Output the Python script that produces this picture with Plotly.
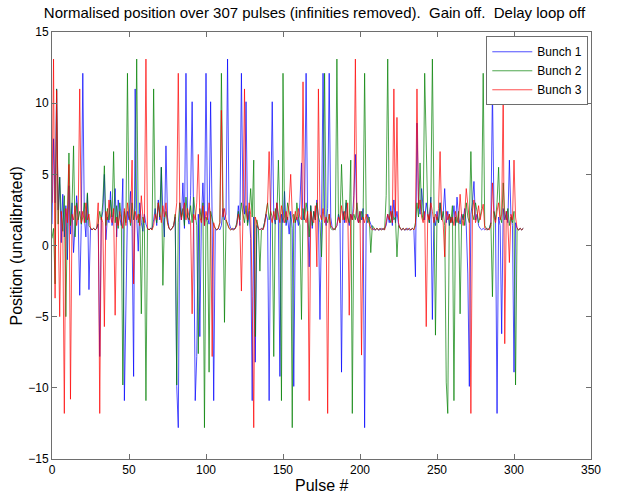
import plotly.graph_objects as go

title = "Normalised position over 307 pulses (infinities removed).  Gain off.  Delay loop off"
x_title = "Pulse #"
y_title = "Position (uncalibrated)"
series_names = ["Bunch 1", "Bunch 2", "Bunch 3"]
series_colors = ["#0000FF", "#008000", "#FF0000"]

bunch1 = [
    1.5, 7.5, 3.0, 11.0, 2.5, 4.8, 0.2, 3.6, 0.6, 2.8,
    -1.0, 4.2, 0.8, 3.0, -0.5, 1.2, 3.5, 2.0, -3.5, 1.4,
    12.1, 2.0, 0.6, 3.6, -3.1, 1.2, 1.1, 1.2, 1.1, 1.2,
    1.5, -7.8, 1.8, 2.4, 5.0, 0.4, 2.0, 1.6, 3.8, 1.4,
    2.2, 4.0, 0.6, 3.2, 2.0, 1.4, 4.7, -10.9, -4.5, 2.4,
    1.8, 3.8, 1.2, -9.2, 11.0, 2.0, -0.4, 3.0, 1.6, 1.0,
    2.2, 1.5, 1.2, 1.1, 1.2, 1.2, 1.8, 2.6, 1.4, 3.2,
    1.8, 5.5, 2.2, 0.6, 7.0, 2.0, 1.2, 1.1, 1.2, 1.4,
    2.0, -9.9, -12.8, 3.0, 1.8, 4.4, 1.2, 12.1, 2.0, 1.5,
    3.5, 10.1, 1.6, -10.9, -7.8, 2.2, -6.4, 1.8, 4.4, 1.4,
    12.1, 2.0, 1.5, 10.1, 1.8, -10.9, 1.2, 1.1, 1.2, 1.1,
    1.4, 2.6, 1.8, 2.2, 13.1, 1.6, 1.2, 1.1, 1.2, 1.2,
    1.5, 2.8, 1.4, 12.1, 3.0, 2.2, 10.1, 1.6, 2.4, 0.5,
    -10.9, 2.0, -8.2, 1.4, 1.2, 1.1, 1.2, 1.1, 1.6, 2.2,
    1.8, -10.9, 2.4, 10.1, 2.0, 1.5, 3.0, 1.8, -9.2, 2.2,
    1.6, 3.8, 1.4, 2.0, 0.8, 2.4, 1.2, -9.9, 1.6, 2.0,
    1.4, 3.0, 5.8, 1.8, 2.4, 12.1, 2.0, -1.5, 2.8, 1.2,
    2.4, 1.8, 3.2, 2.0, -5.2, 1.6, 12.1, 2.2, 1.4, 2.6,
    12.1, 2.0, 1.2, 1.1, 1.2, 1.4, 2.2, 1.8, -8.9, 2.4,
    1.6, 3.0, 2.0, 1.4, 2.2, 1.8, 3.5, 6.4, 2.0, 1.6,
    2.4, 1.8, 2.6, -12.8, 1.5, 2.2, 1.8, 1.4, 1.2, 1.1,
    1.1, 1.2, 1.1, 1.1, 1.2, 1.1, 1.2, 1.4, 2.2, 1.6,
    2.8, 1.4, 3.2, 1.6, 2.4, 1.5, 1.2, 1.1, 1.2, 1.1,
    1.1, 1.2, 1.1, 1.1, 1.2, 1.1, -2.2, 8.6, 3.0, 2.2,
    4.0, 2.6, 1.8, 3.0, 2.2, 1.6, 3.4, -5.2, 2.0, 1.4,
    2.4, 1.6, 3.0, 1.8, 2.2, 4.0, 1.6, 2.4, 1.4, 2.0,
    1.6, 2.8, 1.4, 3.4, 2.0, 1.5, 2.2, 1.8, 2.6, 1.4,
    -2.0, -9.9, 2.2, 3.0, 4.5, 1.8, 2.2, 1.4, 1.2, 1.1,
    1.2, 1.1, 1.2, 1.1, 1.2, 1.6, 11.0, 2.4, 1.8, -11.8,
    2.0, 1.4, -6.2, 2.6, 1.8, 2.4, 1.6, 6.0, 2.2, 1.4,
    -8.9, 1.6, 1.2, 1.1, 1.2, 1.1, 1.2,
]

bunch2 = [
    0.5, 1.2, -2.7, 11.0, 1.5, 4.8, 2.2, 1.0, 3.5, -5.0,
    2.0, 6.5, 1.4, 2.8, 7.0, 0.6, 3.0, 1.8, 2.4, 1.5,
    2.0, 3.0, 1.6, 3.7, 1.4, 1.2, 1.1, 1.2, 1.1, 1.2,
    1.6, 2.4, 1.8, 3.0, 5.6, 1.4, 2.6, 1.8, 3.2, 2.0,
    6.6, 1.6, 2.8, 1.2, 3.0, 2.0, -9.8, 2.4, 1.6, 12.1,
    2.2, 1.4, 3.0, 1.8, 2.6, 13.1, 1.6, 2.2, -4.8, 2.0,
    1.4, -10.9, 1.2, 1.1, 1.2, 1.1, 11.0, 2.2, 1.6, 3.0,
    2.0, 5.5, -2.8, 1.8, 2.4, 1.6, 1.2, 1.1, 1.2, 1.4,
    2.2, -9.8, 1.6, 3.0, 2.0, 2.6, 1.4, 3.4, 2.0, 1.8,
    2.8, 1.6, 3.4, 2.2, 1.4, -7.6, 2.6, 1.8, 3.0, -12.8,
    2.0, 1.6, -8.9, 2.4, 1.8, 1.4, 1.2, 1.1, 1.2, 1.6,
    12.1, 2.0, -5.4, 1.8, 1.4, 1.2, 1.1, 1.2, 1.1, 1.2,
    1.6, 2.4, 1.8, 3.0, 2.2, 1.6, 2.8, 1.4, 2.2, 4.0,
    2.0, 6.0, -6.4, 1.8, 1.2, -1.8, 1.1, 1.2, 1.6, 2.4,
    3.0, 1.8, 2.4, 2.0, -7.8, 2.6, 1.8, 6.0, 2.2, -10.9,
    12.1, 2.0, 1.6, 3.0, 2.4, 1.8, -12.8, 2.2, 1.6, 3.0,
    2.0, 1.4, -5.2, 2.6, 1.8, 3.0, 2.2, 0.6, 2.8, 1.4,
    2.4, 1.8, 3.0, 2.0, 1.6, -0.8, 2.4, 12.1, 2.0, 1.6,
    2.2, 1.2, 1.1, 1.2, 1.1, 13.1, 2.0, 1.6, 5.7, 2.4,
    1.8, 3.2, 2.0, 1.6, 6.0, -11.8, 2.2, 1.8, 3.0, 2.0,
    1.6, 2.4, 1.8, 12.1, 2.2, 1.6, 2.0, -0.5, 1.4, 1.2,
    1.1, 1.2, 1.1, 1.2, 1.1, 1.2, 1.1, 3.5, 13.1, 2.0,
    1.6, 2.4, 1.8, 2.0, -0.8, 1.4, 1.2, 1.1, 1.2, 1.1,
    1.2, 1.1, 1.2, 1.1, 1.2, 1.1, 1.6, 3.0, 2.0, 5.8,
    2.4, 1.8, 12.1, 6.6, 2.2, 1.6, 3.0, 13.1, 2.4, -6.3,
    2.0, 1.6, 3.0, 1.8, 2.4, 1.4, -9.6, -11.8, 2.2, 1.6,
    2.8, -10.9, 2.0, 1.6, 2.4, -4.8, 1.8, 2.2, 1.4, 3.0,
    2.0, 1.6, 6.6, 2.2, 1.8, 3.0, 2.4, 1.6, 2.0, 2.6,
    12.1, 1.4, 1.2, 1.1, 1.2, 1.6, -3.6, 2.4, 1.8, 3.0,
    5.5, 2.0, 1.6, 4.4, 2.2, 1.8, 2.6, 1.4, 2.0, 1.6,
    2.4, -9.8, 1.2, 1.1, 1.2, 1.1, 1.2,
]

bunch3 = [
    3.0, 13.1, -3.7, 10.9, 2.0, -5.0, 2.4, 1.2, -11.8, 2.6,
    1.6, 5.7, -10.8, 2.2, 1.8, 2.8, 1.4, 2.2, 11.0, 1.6,
    2.4, 1.6, 3.0, 1.8, 2.2, 1.2, 1.1, 1.2, 1.1, 1.2,
    3.0, -11.8, 2.0, 1.6, -5.7, 2.4, 1.8, 3.2, 2.0, 1.6,
    2.6, -4.9, 2.0, 1.4, 2.4, 1.8, 1.2, 2.6, 1.4, 3.0,
    2.0, 1.6, 6.0, -2.7, 2.4, 1.8, 2.2, 1.4, 3.5, 2.0,
    1.6, 13.1, 1.2, 1.1, 1.2, 1.1, 1.4, 2.2, 1.8, 3.0,
    2.4, 1.6, 2.8, 2.0, 3.0, 1.6, 1.2, 1.1, 1.2, 1.4,
    2.0, 3.0, 12.1, 2.6, 1.8, 2.4, 3.0, 1.8, 2.6, 2.0,
    1.6, -4.8, 2.2, 1.8, 3.0, 6.4, 2.0, 1.6, 2.8, 1.4,
    2.4, 1.8, 3.0, 2.0, -7.8, 1.6, 1.2, 1.1, 1.2, 1.6,
    9.5, 2.0, 2.6, 1.8, 1.4, 1.2, 1.1, 1.2, 1.1, 1.2,
    1.4, 2.2, 1.6, -3.2, 2.0, 11.0, 2.4, 1.8, 3.0, 2.2,
    -3.6, -12.8, 2.0, 1.6, 1.2, 1.1, 1.2, 1.1, 1.4, 2.2,
    3.0, 6.6, 2.0, 1.6, 2.4, 1.8, 3.0, 2.2, 1.6, 2.8,
    2.0, 1.6, 2.4, 1.8, 3.0, 5.0, 2.2, 1.6, 2.4, 1.8,
    2.6, 2.0, 1.8, 11.5, 2.0, 1.6, 2.4, -10.9, 2.4, 1.8,
    1.6, 2.8, -1.5, 11.0, 2.2, 1.8, 2.6, 1.6, 2.0, -11.8,
    2.2, 1.4, 1.2, 1.1, 1.2, 1.4, 2.0, 1.6, 2.8, 1.8,
    2.4, 1.6, 3.0, -4.9, 2.2, 1.8, 2.6, 13.1, 2.0, 1.6,
    2.4, -7.7, 2.0, 1.6, 2.2, 1.8, 1.4, 1.2, 1.1, 1.2,
    1.1, 1.2, 1.1, 1.2, 1.1, 1.2, 1.1, 1.6, 2.2, 1.8,
    2.4, 1.6, 11.0, 2.0, 9.0, 1.6, 1.2, 1.1, 1.2, 1.1,
    1.2, 1.1, 1.2, 1.1, 1.2, 1.1, 1.4, 11.0, 2.6, 3.2,
    2.0, 1.6, 2.4, -5.7, 2.2, 1.8, 3.0, 2.4, 1.6, 2.2,
    1.8, 2.6, 6.6, 2.0, 1.6, -0.8, 2.4, 1.8, 2.2, 1.6,
    2.0, 1.4, 2.4, 1.8, 1.6, 3.6, 2.0, 1.4, 2.2, 4.0,
    2.6, 1.8, -11.8, 2.4, 3.2, 1.6, 2.0, 2.8, 1.8, 2.4,
    2.9, 1.2, 1.1, 1.2, 1.1, 1.4, 4.4, 2.0, 1.6, 2.4,
    3.0, 1.8, 2.2, 11.0, -6.9, 2.4, 1.6, -1.2, 2.2, 1.8,
    6.0, 2.0, 1.2, 1.1, 1.2, 1.1, 1.2,
]

x_ticks = [0, 50, 100, 150, 200, 250, 300, 350]
y_ticks = [-15, -10, -5, 0, 5, 10, 15]

pulses = list(range(len(bunch1)))

fig = go.Figure()
for name, color, vals in zip(series_names, series_colors, [bunch1, bunch2, bunch3]):
    fig.add_trace(go.Scatter(
        x=pulses, y=vals, mode="lines", name=name,
        line=dict(color=color, width=0.7),
    ))

font_family = "Liberation Sans, Arial"
axis_common = dict(
    showgrid=False, zeroline=False, showline=True, mirror="ticks",
    linecolor="#6e6e6e", linewidth=1, ticks="inside", ticklen=5,
    tickcolor="#6e6e6e", tickfont=dict(family=font_family, size=12, color="black"),
    automargin=False,
)

fig.update_layout(
    width=629, height=495,
    margin=dict(l=52, r=38, t=32, b=36, autoexpand=False),
    paper_bgcolor="white", plot_bgcolor="white",
    title=dict(text=title, x=0.5, xanchor="center", y=0.985, yanchor="top",
               font=dict(family=font_family, size=15, color="black")),
    xaxis=dict(range=[0, 350], tickvals=x_ticks, **axis_common),
    yaxis=dict(range=[-15, 15], tickvals=y_ticks, **axis_common),
    legend=dict(x=0.995, y=0.99, xanchor="right", yanchor="top",
                bgcolor="white", bordercolor="#6e6e6e", borderwidth=1,
                font=dict(family=font_family, size=12, color="black"),
                tracegroupgap=0, itemwidth=40),
    showlegend=True,
    annotations=[
        dict(text=y_title, xref="paper", yref="paper",
             x=-0.065, y=0.5, xanchor="center", yanchor="middle",
             textangle=-90, showarrow=False,
             font=dict(family=font_family, size=16, color="black")),
        dict(text=x_title, xref="paper", yref="paper",
             x=0.5, y=-0.062, xanchor="center", yanchor="middle",
             showarrow=False,
             font=dict(family=font_family, size=16, color="black")),
    ],
)

fig.write_html("out.html")
